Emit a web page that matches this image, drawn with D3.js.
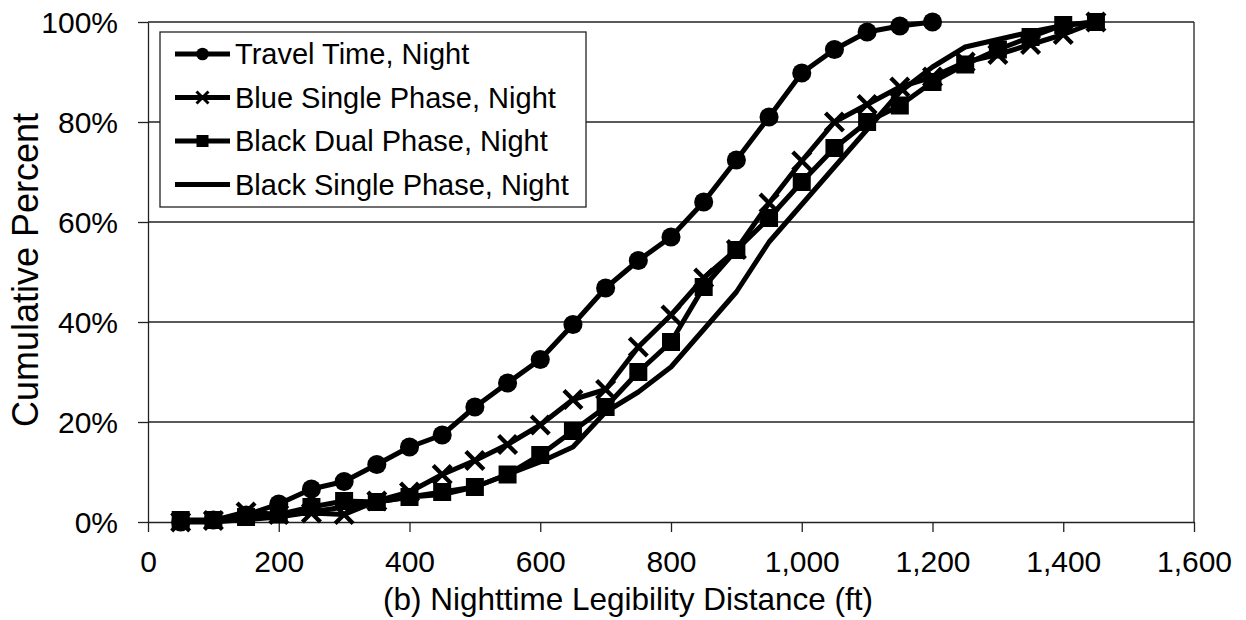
<!DOCTYPE html>
<html>
<head>
<meta charset="utf-8">
<script src="https://cdn.jsdelivr.net/npm/d3@7"></script>
<style>
  html, body { margin: 0; padding: 0; background: #fff; }
  text { font-family: "Liberation Sans", Arial, sans-serif; fill: #000; }
</style>
</head>
<body>
<svg id="chart" width="1246" height="620"></svg>
<script>
const distances = [50,100,150,200,250,300,350,400,450,500,550,600,650,700,750,800,850,900,950,1000,1050,1100,1150,1200,1250,1300,1350,1400,1450];
const travelTimeNight = [0,0.4,1.4,3.6,6.6,8.1,11.5,15,17.4,23,27.8,32.5,39.5,46.8,52.3,57,64,72.4,81,89.8,94.5,98,99.2,100];
const blueSingleNight = [0,0.3,2,1.5,1.8,1.5,4.2,6,9.5,12.3,15.5,19.4,24.5,26.5,35,41.4,48.8,54.5,63.8,72.2,80,83.5,87,89,92,93.5,95.5,97.5,100];
const blackDualNight = [0.4,0.4,1,1.5,3,4.2,4,5,6,7,9.5,13.4,18.2,23,30,36,47,54.4,60.8,68,74.8,80,83.3,88,91.5,94.5,97,99.4,100];
const blackSingleNight = [0,0,0.5,1,2,3,4,5,5.5,7,9.5,12,15,22,26,31,38.5,46,56,63.5,71,78.5,86,91,95,96.5,98,99.3,100];
const seriesNames = ["Travel Time, Night","Blue Single Phase, Night","Black Dual Phase, Night","Black Single Phase, Night"];
const xTicks = [0,200,400,600,800,1000,1200,1400,1600];
const yTicks = [0,20,40,60,80,100];
const xTitle = "(b) Nighttime Legibility Distance (ft)";
const yTitle = "Cumulative Percent";

const svg = d3.select("#chart");
const L = 148, R = 1194, T = 22, B = 522;
const x = d3.scaleLinear().domain([0,1600]).range([L,R]);
const y = d3.scaleLinear().domain([0,100]).range([B,T]);

// gridlines
svg.append("g").selectAll("line").data(yTicks.filter(d=>d>0)).join("line")
  .attr("x1",L).attr("x2",R).attr("y1",d=>y(d)).attr("y2",d=>y(d))
  .attr("stroke","#222").attr("stroke-width",1.3);
// right border
svg.append("line").attr("x1",R).attr("x2",R).attr("y1",T).attr("y2",B)
  .attr("stroke","#222").attr("stroke-width",1.3);

const fmtX = d3.format(",");
const xAxis = svg.append("g").attr("transform",`translate(0,${B})`)
  .call(d3.axisBottom(x).tickValues(xTicks).tickFormat(fmtX).tickSize(10).tickSizeOuter(0));
const yAxis = svg.append("g").attr("transform",`translate(${L},0)`)
  .call(d3.axisLeft(y).tickValues(yTicks).tickFormat(d=>d+"%").tickSize(10).tickSizeOuter(0));
[xAxis,yAxis].forEach(a=>{
  a.selectAll("path,line").attr("stroke","#222").attr("stroke-width",1.3);
  a.selectAll("text").style("font-size","30px").style("font-family","'Liberation Sans', Arial, sans-serif").attr("fill","#000");
});
xAxis.selectAll("text").attr("dy",null).attr("y",50);
yAxis.selectAll("text").attr("x",-30).attr("dy","0.36em");

// titles
svg.append("text").attr("x",628).attr("y",610).attr("text-anchor","middle")
  .style("font-size","31.5px").text(xTitle);
svg.append("text").attr("transform","translate(38,270) rotate(-90)").attr("text-anchor","middle")
  .style("font-size","36px").text(yTitle);

const line = d3.line().x(d=>x(d[0])).y(d=>y(d[1]));
const allSeries = [travelTimeNight, blueSingleNight, blackDualNight, blackSingleNight];
const markers = ["circle","x","square","none"];

function drawMarker(g, type, cx, cy, s) {
  if (type === "circle") {
    g.append("circle").attr("cx",cx).attr("cy",cy).attr("r",s*0.53).attr("fill","#000");
  } else if (type === "square") {
    g.append("rect").attr("x",cx-s/2).attr("y",cy-s/2).attr("width",s).attr("height",s).attr("fill","#000");
  } else if (type === "x") {
    const h = s/2;
    g.append("path").attr("d",`M${cx-h},${cy-h}L${cx+h},${cy+h}M${cx-h},${cy+h}L${cx+h},${cy-h}`)
      .attr("stroke","#000").attr("stroke-width",s*0.24).attr("fill","none");
  }
}

const plot = svg.append("g");
[3,2,1,0].forEach(i=>{
  const pts = allSeries[i].map((v,j)=>[distances[j],v]);
  plot.append("path").datum(pts).attr("d",line)
    .attr("fill","none").attr("stroke","#000").attr("stroke-width",5)
    .attr("stroke-linejoin","round");
});
[2,1,0].forEach(i=>{
  const g = plot.append("g");
  allSeries[i].forEach((v,j)=>drawMarker(g, markers[i], x(distances[j]), y(v), 18));
});

// legend
const leg = svg.append("g");
leg.append("rect").attr("x",160).attr("y",32).attr("width",426).attr("height",175)
  .attr("fill","#fff").attr("stroke","#222").attr("stroke-width",1.3);
seriesNames.forEach((name,i)=>{
  const cy = 54 + i*43.5;
  leg.append("line").attr("x1",175).attr("x2",230).attr("y1",cy).attr("y2",cy)
    .attr("stroke","#000").attr("stroke-width",5);
  drawMarker(leg, markers[i], 202.5, cy, 12);
  leg.append("text").attr("x",235).attr("y",cy).attr("dy","0.36em")
    .style("font-size","29px").text(name);
});
</script>
</body>
</html>
